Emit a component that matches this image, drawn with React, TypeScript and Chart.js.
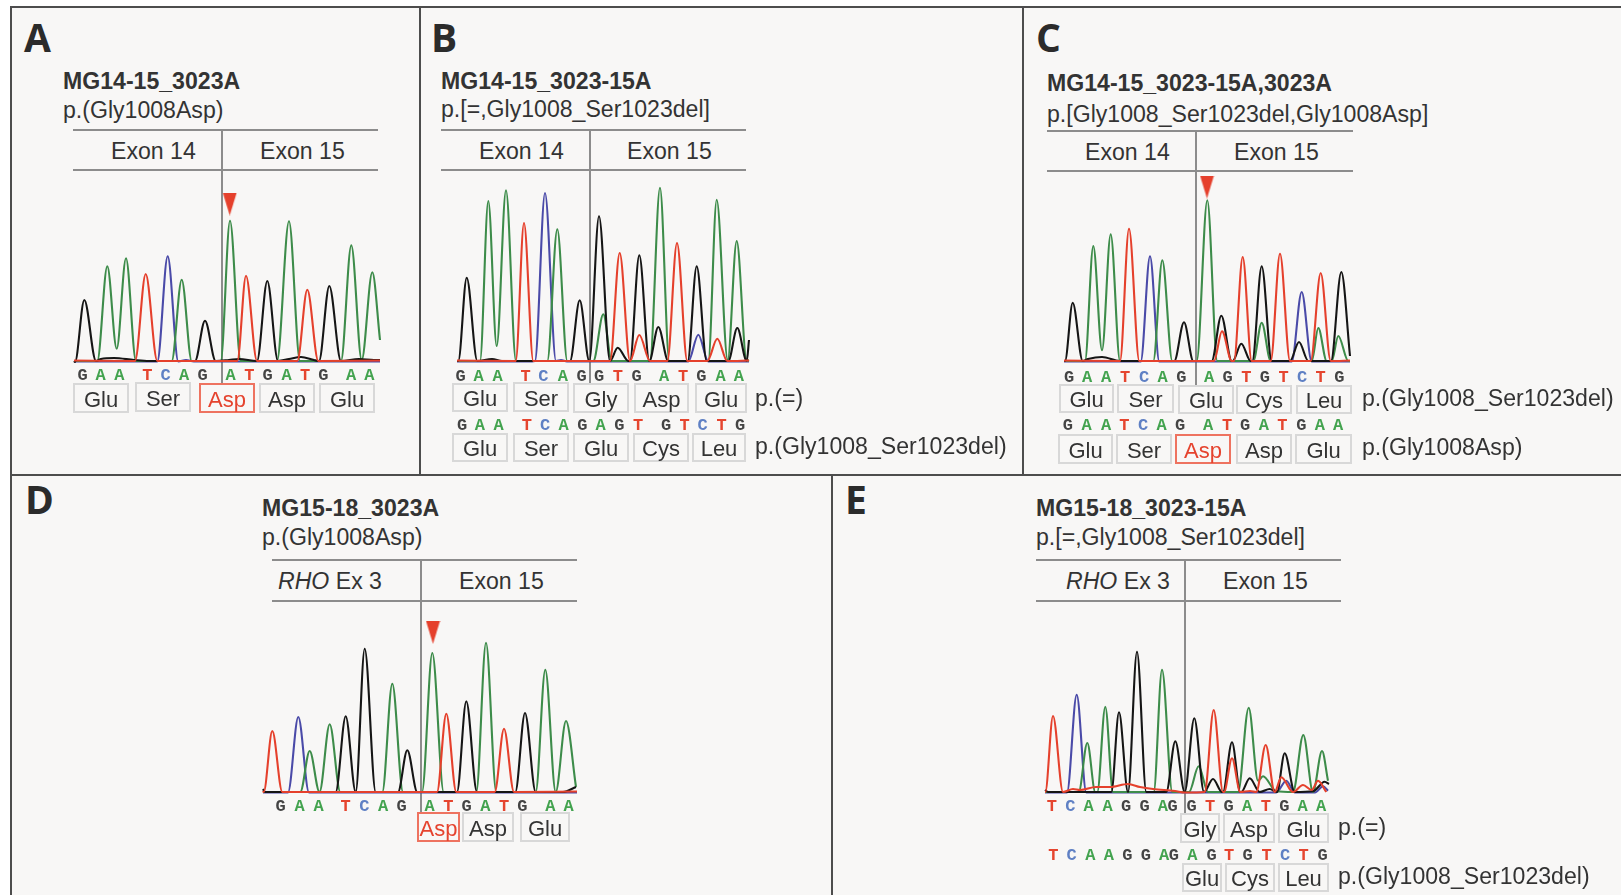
import React, { useEffect, useRef } from "react";
import { Chart, registerables } from "chart.js";

Chart.register(...registerables);

type Pt = [number, number];

// ---------- Panel A traces (scan position, signal) ----------
const aBlack: Pt[] = [[0,1],[1,0],[10.3,62],[22,1],[27,3],[40,4],[60,2],[75,1],[121,1],[131,41.3],[141.7,1],[155,2],[165,3],[183,1],[193.3,81],[204,1],[215,3],[227,5],[240,2],[245,1],[255.3,76],[267,1],[285,3],[300,2],[306,2]];
const aGreen: Pt[] = [[0,1],[23.3,1],[33.3,95.7],[42.7,13.3],[52,103.7],[62,1],[97.7,1],[107.7,82.3],[117.7,1],[146.7,1],[156,141.3],[166.7,1],[203,1],[215,140.7],[226,1],[267,1],[277.3,116.7],[287.7,2],[298.3,89.7],[306,22]];
const aRed: Pt[] = [[0,1.5],[61,1],[71.7,88],[83.3,1],[163.3,1],[172,86.3],[183,1],[223.3,1],[233.3,72.3],[244.3,1],[306,1.5]];
const aBlue: Pt[] = [[0,0.5],[83.3,0.5],[93.7,105.7],[104.3,0.5],[112,2],[120,0.5],[306,0.5]];
const aBasePos = [8.7,26.7,45.3,73.3,91.7,110,128.7,156.7,175.3,193.7,212.7,231,249.3,277,295.3];
const aBases = "GAATCAGATGATGAA";
const aMarker: Pt[] = [[155.7,158]];

// ---------- Panel B ----------
const bBlack: Pt[] = [[0,1],[1.3,1],[9.7,84.3],[20.3,1],[35,3],[45,1],[113,1],[122.7,61.7],[132.3,1],[142,145.7],[153,1],[160.7,14.3],[171.3,1],[173,1],[182.3,106.7],[192.3,1],[201.3,35],[211.3,1],[230.7,1],[239.7,95.7],[249.7,1],[271.3,1],[280.3,34],[289.7,1],[292,22]];
const bGreen: Pt[] = [[0,1],[23,1],[31.3,161],[39.7,16],[49,171.7],[59,1],[90.3,1],[100.3,132.7],[110.3,1],[136.3,1],[146.3,47.7],[154.7,1],[193,1],[203,174.3],[212.3,1],[251.3,1],[259.7,162.3],[270.7,2],[279.7,121],[289.7,1],[292,2]];
const bRed: Pt[] = [[0,1.5],[58.7,1],[67,139],[76.3,1],[153,1],[162.7,109],[173,1],[182.3,27],[193,1],[210.3,1],[220,119],[230.3,1],[250.3,1],[260.3,23.3],[270.3,1],[292,1.5]];
const bBlue: Pt[] = [[0,0.5],[71,0.5],[78,1],[88,169],[99,1],[104,2],[110,0.5],[231.3,0.5],[241.3,27.3],[251.3,0.5],[292,0.5]];
const bBasePos1 = [3.6,21.6,40.7,68.7,86.3,105.8,124.5,142.2,160.9,179.7,207.2,226,244.3,263.5,281.8];
const bBases1 = "GAATCAGGTGATGAA";
const bBasePos2 = [5.1,22.8,41.5,69.8,88.2,106.6,125.3,143.7,162.4,181.2,209.1,227.5,245.5,264.6,283];
const bBases2 = "GAATCAGAGTGTCTG";

// ---------- Panel C ----------
const cBlack: Pt[] = [[0,1],[1,1],[8.7,59.3],[18.7,1],[24,3],[38,5],[56,1],[110.3,1],[120,39.7],[129.3,1],[147.7,1],[157.3,46.3],[167.7,1],[168.7,1],[177.3,18.3],[186.7,1],[188.3,1],[197.7,95.7],[207.7,1],[226,1],[235,20],[244.3,1],[267,1],[277.3,90],[286,6]];
const cGreen: Pt[] = [[0,1],[21,1],[29.3,116],[38,11.7],[46.7,127.7],[56,1],[89.3,1],[98.3,101.7],[108.3,1],[132.7,1],[143.3,161.7],[153.3,1],[189.3,1],[197.7,39.3],[206.7,1],[247.7,1],[254.3,34],[262.7,1],[267.7,1],[274.3,26],[284.3,1],[286,1]];
const cRed: Pt[] = [[0,1.5],[56,1],[65,133.3],[75.3,1],[150,1],[158,30.7],[167.7,1],[170,1],[178.7,105],[187.7,1],[206.7,1],[216,108.3],[226,1],[246.7,1],[256.7,89],[266.7,1],[286,1.5]];
const cBlue: Pt[] = [[0,0.5],[76.7,0.5],[86,105.7],[95.3,0.5],[227.7,0.5],[237.7,70],[247.7,0.5],[286,0.5]];
const cBasePos1 = [5,23.2,42.2,61.1,80.1,98.7,117.3,145.1,163.7,182.3,200.9,219.5,238.1,256.7,275.3];
const cBases1 = "GAATCAGAGTGTCTG";
const cBasePos2 = [3.9,22.5,42.2,60.4,79,97.6,116.1,144,163,181.2,199.8,218.4,237.3,255.9,274.1];
const cBases2 = "GAATCAGATGATGAA";
const cMarker: Pt[] = [[143,175]];

// ---------- Panel D ----------
const dBlack: Pt[] = [[0,4],[2,1],[72.7,1],[82.7,76.7],[92.7,1],[101.7,144.3],[112.7,1],[135,1],[144.3,42.7],[154.3,1],[194,1],[203.3,91.7],[214,1],[252.3,1],[262,80],[272.7,1],[300,1],[313,6]];
const dGreen: Pt[] = [[0,1],[37.3,1],[46.7,42],[56.5,1],[66.7,68.7],[77.3,1],[119.3,1],[129.3,109.3],[140,1],[159,1],[169.3,140],[180.7,1],[213.3,1],[223,150.3],[233.3,1],[272.7,1],[282.3,123.3],[292.7,1],[303,72],[313,6]];
const dRed: Pt[] = [[0,2],[0.7,1],[9.3,62],[19.3,1],[174,1],[183.3,79.3],[193.3,1],[231.7,1],[241,64.3],[251,1],[314,1.5]];
const dBlue: Pt[] = [[0,0.5],[25,0.5],[35.3,76],[46,0.5],[314,0.5]];
const dBasePos = [17.7,36.7,55.7,82.7,101.3,120,138.7,166.7,185.3,203.7,222.3,241,259.3,287.3,305.7];
const dBases = "GAATCAGATGATGAA";
const dMarker: Pt[] = [[170,160.6]];

// ---------- Panel E ----------
const eBlack: Pt[] = [[0,3],[3,1],[66.3,1],[74,80.7],[83,1],[92,141.3],[101.3,1],[121.3,1],[130.3,51.7],[139.7,1],[149.3,74.7],[159,1],[168,14],[177,1],[178,1],[187,50.7],[195.3,1],[196.3,1],[204.7,14.7],[214.7,1],[224.7,4],[232,1],[239.7,39.7],[249.7,1],[268,1.7],[279.7,11.3],[284,9]];
const eGreen: Pt[] = [[0,1],[33.7,1],[42.3,50],[50.3,1],[52.3,1],[60.3,86.3],[68,1],[108.7,1],[117,123.3],[127.3,1],[144,1],[153.7,26.7],[163,1],[193,1],[203.7,85.3],[213,12.3],[218,16.7],[231.3,1.7],[248,1],[258.3,58],[268,1],[277,42],[283,12.3]];
const eRed: Pt[] = [[0,1],[0.3,1],[8,77],[18,1],[28,4],[35,3],[51,6],[65,6],[83,9],[95,6],[108,4],[130,2],[140,0.5],[159.7,1],[168.7,83],[178,1],[179,1],[187,34.7],[195.3,1],[205,2],[211.3,1],[220.7,48],[229.7,1],[236.3,15.7],[248,1],[258,8],[266.7,3],[273,12.3],[281.3,1]];
const eBlue: Pt[] = [[0,0.5],[22,0.5],[31.7,98.3],[41.3,0.5],[231.3,0.5],[241.3,12.3],[249.7,0.5],[270,0.5],[278,6.7],[283,2.3]];
const eBasePos1 = [6.9,25.4,43.5,62.7,81.2,99.7,117.8,127.6,146.5,165,183.5,202,220.8,239.3,257.5,276];
const eBases1 = "TCAAGGAGGTGATGAA";
const eBasePos2 = [8.4,26.5,45.4,63.9,82.4,100.8,119,128.8,147.3,166.5,184.2,202.7,221.6,240.1,258.6,277.5];
const eBases2 = "TCAAGGAGAGTGTCTG";

// ---------- Colours ----------
const GREEN = "#3d8c4a";
const RED = "#e5402c";
const BLACK = "#151515";
const BLUE = "#4a4aa8";
const baseColor: Record<string, string> = { G: "#444444", A: "#43a34f", T: "#e5452f", C: "#5f80c4" };

type Spec = {
  left: number; baseline: number; width: number; height: number;
  black: Pt[]; green: Pt[]; red: Pt[]; blue: Pt[];
  pos1: number[]; bases1: string; pos2?: number[]; bases2?: string; marker?: Pt[];
  row1Pad: number; row2Pad?: number;
};

const specs: Spec[] = [
  { left: 74, baseline: 362, width: 306, height: 175, black: aBlack, green: aGreen, red: aRed, blue: aBlue, pos1: aBasePos, bases1: aBases, marker: aMarker, row1Pad: 1 },
  { left: 457, baseline: 362, width: 292, height: 185, black: bBlack, green: bGreen, red: bRed, blue: bBlue, pos1: bBasePos1, bases1: bBases1, pos2: bBasePos2, bases2: bBases2, row1Pad: 1.5, row2Pad: 24.5 },
  { left: 1064, baseline: 362, width: 287, height: 190, black: cBlack, green: cGreen, red: cRed, blue: cBlue, pos1: cBasePos1, bases1: cBases1, pos2: cBasePos2, bases2: cBases2, marker: cMarker, row1Pad: 2.5, row2Pad: 24.5 },
  { left: 263, baseline: 793, width: 314, height: 175, black: dBlack, green: dGreen, red: dRed, blue: dBlue, pos1: dBasePos, bases1: dBases, marker: dMarker, row1Pad: 0.5 },
  { left: 1045, baseline: 793, width: 284, height: 150, black: eBlack, green: eGreen, red: eRed, blue: eBlue, pos1: eBasePos1, bases1: eBases1, pos2: eBasePos2, bases2: eBases2, row1Pad: 1, row2Pad: 24 },
];

const MARGIN = 12;
const YMIN = -3;
const ROW_H = 26;
const ROW2_H = 50;

function toXY(p: Pt[]) { return p.map(([x, y]) => ({ x, y })); }

function Trace({ spec }: { spec: Spec }) {
  const ref = useRef<HTMLCanvasElement>(null);
  useEffect(() => {
    if (!ref.current) return;
    const tri = document.createElement("canvas");
    tri.width = 15; tri.height = 23;
    const g = tri.getContext("2d")!;
    g.fillStyle = "#e5402c";
    g.beginPath(); g.moveTo(0.5, 0); g.lineTo(14.5, 0); g.lineTo(7.5, 23); g.closePath(); g.fill();

    const line = (data: Pt[], color: string) => ({
      data: toXY(data), borderColor: color, borderWidth: 2.1, pointRadius: 0,
      cubicInterpolationMode: "monotone" as const, fill: false,
    });
    const datasets: any[] = [
      line(spec.red, RED), line(spec.black, BLACK), line(spec.green, GREEN), line(spec.blue, BLUE),
    ];
    if (spec.marker) datasets.unshift({ data: toXY(spec.marker), showLine: false, pointStyle: tri, pointRadius: 8 });

    const mkAxis = (pos: number[], bases: string, pad: number, h: number, weight: number) => ({
      type: "linear" as const, position: "bottom" as const, min: -MARGIN, max: spec.width + MARGIN, weight,
      grid: { display: false, drawTicks: false }, border: { display: false },
      afterBuildTicks: (s: any) => { s.ticks = pos.map((value) => ({ value })); },
      afterFit: (s: any) => { s.height = h; s.paddingLeft = 0; s.paddingRight = 0; },
      ticks: {
        autoSkip: false, maxRotation: 0, minRotation: 0, padding: pad,
        font: { family: "'Liberation Mono'", size: 17, weight: "bold" as const },
        color: (c: any) => baseColor[bases[c.index]] ?? "#444",
        callback: (_v: any, i: number) => bases[i],
      },
    });
    const scales: any = {
      x: mkAxis(spec.pos1, spec.bases1, spec.row1Pad, ROW_H, 0),
      y: { type: "linear", display: false, min: YMIN, max: spec.height },
    };
    if (spec.pos2) {
      scales.x2 = mkAxis(spec.pos2, spec.bases2!, spec.row2Pad!, ROW2_H, 1);
    }
    const chart = new Chart(ref.current, {
      type: "line",
      data: { datasets },
      options: {
        responsive: false, animation: false, parsing: { xAxisKey: "x", yAxisKey: "y" },
        layout: { padding: 0, autoPadding: false },
        plugins: { legend: { display: false }, tooltip: { enabled: false }, title: { display: false } },
        scales,
      },
    });
    return () => chart.destroy();
  }, [spec]);
  const bottom = spec.pos2 ? ROW_H + ROW2_H : ROW_H;
  return (
    <canvas
      ref={ref}
      width={spec.width + 2 * MARGIN}
      height={spec.height - YMIN + bottom}
      style={{ position: "absolute", left: spec.left - MARGIN, top: spec.baseline - spec.height }}
    />
  );
}

const SANS = "'Liberation Sans', Arial, sans-serif";
const TEXT = "#333333";

function T({ x, base, size = 23.1, bold, italic, color = TEXT, children }: any) {
  return (
    <div style={{ position: "absolute", left: x, top: base - 0.8465 * size, fontFamily: SANS, fontSize: size, lineHeight: 1, whiteSpace: "nowrap", fontWeight: bold ? 700 : 400, fontStyle: italic ? "italic" : "normal", color }}>
      {children}
    </div>
  );
}

function PanelLetter({ x, base, children }: any) {
  return (
    <div style={{ position: "absolute", left: x, top: base - 0.888 * 39, fontFamily: "'Open Sans'", fontWeight: 700, fontSize: 39, lineHeight: 1, color: "#2b2b2b" }}>{children}</div>
  );
}

function HLine({ x1, x2, y, color = "#8c8c8c", w = 1.5 }: any) {
  return <div style={{ position: "absolute", left: x1, width: x2 - x1, top: y, height: w, background: color }} />;
}
function VLine({ x, y1, y2, color = "#8c8c8c", w = 1.5 }: any) {
  return <div style={{ position: "absolute", left: x, top: y1, height: y2 - y1, width: w, background: color }} />;
}

function Box({ x1, x2, y1, y2, red, children }: any) {
  return (
    <div style={{ position: "absolute", left: x1, top: y1, width: x2 - x1, height: y2 - y1, boxSizing: "border-box", border: `2px solid ${red ? "#ee7360" : "#d8d8d8"}`, paddingTop: 3, display: "flex", alignItems: "center", justifyContent: "center", fontFamily: SANS, fontSize: 22, color: red ? "#e5432e" : TEXT, background: "transparent" }}>
      {children}
    </div>
  );
}

const FRAME = "#4d4d4d";

export default function App() {
  useEffect(() => { document.body.style.margin = "0"; document.body.style.background = "#ffffff"; }, []);
  return (
    <div style={{ position: "relative", width: 1621, height: 895, overflow: "hidden", background: "#ffffff", filter: "blur(0.4px)" }}>
      <div style={{ position: "absolute", left: 10, top: 7, right: 0, bottom: 0, background: "#f8f7f6" }} />
      <HLine x1={10} x2={1621} y={6} color={FRAME} w={2} />
      <HLine x1={10} x2={1621} y={474} color={FRAME} w={2} />
      <VLine x={10} y1={6} y2={895} color={FRAME} w={2} />
      <VLine x={419} y1={6} y2={475} color={FRAME} w={2} />
      <VLine x={1022} y1={6} y2={475} color={FRAME} w={2} />
      <VLine x={831} y1={475} y2={895} color={FRAME} w={2} />

      <PanelLetter x={24} base={52}>A</PanelLetter>
      <PanelLetter x={431} base={52}>B</PanelLetter>
      <PanelLetter x={1036} base={52}>C</PanelLetter>
      <PanelLetter x={25} base={514}>D</PanelLetter>
      <PanelLetter x={845} base={514}>E</PanelLetter>

      {/* A */}
      <T x={63} base={90} bold>MG14-15_3023A</T>
      <T x={63} base={119}>p.(Gly1008Asp)</T>
      <HLine x1={73} x2={378} y={129} />
      <HLine x1={73} x2={378} y={169} />
      <VLine x={221} y1={130} y2={383} />
      <T x={111} base={160}>Exon 14</T>
      <T x={260} base={160}>Exon 15</T>

      {/* B */}
      <T x={441} base={90} bold>MG14-15_3023-15A</T>
      <T x={441} base={118}>p.[=,Gly1008_Ser1023del]</T>
      <HLine x1={441} x2={746} y={129} />
      <HLine x1={441} x2={746} y={169} />
      <VLine x={589} y1={130} y2={383} />
      <T x={479} base={160}>Exon 14</T>
      <T x={627} base={160}>Exon 15</T>

      {/* C */}
      <T x={1047} base={92} bold>MG14-15_3023-15A,3023A</T>
      <T x={1047} base={123}>p.[Gly1008_Ser1023del,Gly1008Asp]</T>
      <HLine x1={1047} x2={1353} y={130} />
      <HLine x1={1047} x2={1353} y={170} />
      <VLine x={1195} y1={131} y2={385} />
      <T x={1085} base={161}>Exon 14</T>
      <T x={1234} base={161}>Exon 15</T>

      {/* D */}
      <T x={262} base={517} bold>MG15-18_3023A</T>
      <T x={262} base={546}>p.(Gly1008Asp)</T>
      <HLine x1={272} x2={577} y={559} />
      <HLine x1={272} x2={577} y={600} />
      <VLine x={420} y1={560} y2={813} />
      <T x={278} base={590}><i>RHO</i> Ex 3</T>
      <T x={459} base={590}>Exon 15</T>

      {/* E */}
      <T x={1036} base={517} bold>MG15-18_3023-15A</T>
      <T x={1036} base={546}>p.[=,Gly1008_Ser1023del]</T>
      <HLine x1={1036} x2={1341} y={559} />
      <HLine x1={1036} x2={1341} y={600} />
      <VLine x={1184} y1={560} y2={813} />
      <T x={1066} base={590}><i>RHO</i> Ex 3</T>
      <T x={1223} base={590}>Exon 15</T>

      {specs.map((s, i) => <Trace key={i} spec={s} />)}

      {/* A boxes */}
      <Box x1={73} x2={129} y1={383} y2={413}>Glu</Box>
      <Box x1={135} x2={191} y1={382} y2={412}>Ser</Box>
      <Box x1={199} x2={255} y1={383} y2={413} red>Asp</Box>
      <Box x1={259} x2={315} y1={383} y2={413}>Asp</Box>
      <Box x1={319} x2={375} y1={383} y2={413}>Glu</Box>

      {/* B boxes */}
      <Box x1={452} x2={508} y1={383} y2={412}>Glu</Box>
      <Box x1={513} x2={569} y1={382} y2={412}>Ser</Box>
      <Box x1={573} x2={629} y1={383} y2={413}>Gly</Box>
      <Box x1={634} x2={689} y1={383} y2={413}>Asp</Box>
      <Box x1={695} x2={747} y1={383} y2={413}>Glu</Box>
      <T x={755} base={407}>p.(=)</T>
      <Box x1={452} x2={508} y1={433} y2={462}>Glu</Box>
      <Box x1={513} x2={569} y1={433} y2={462}>Ser</Box>
      <Box x1={573} x2={629} y1={433} y2={462}>Glu</Box>
      <Box x1={633} x2={689} y1={433} y2={462}>Cys</Box>
      <Box x1={692} x2={746} y1={433} y2={462}>Leu</Box>
      <T x={755} base={455}>p.(Gly1008_Ser1023del)</T>

      {/* C boxes */}
      <Box x1={1059} x2={1114} y1={384} y2={413}>Glu</Box>
      <Box x1={1117} x2={1174} y1={384} y2={413}>Ser</Box>
      <Box x1={1178} x2={1234} y1={385} y2={414}>Glu</Box>
      <Box x1={1236} x2={1292} y1={385} y2={414}>Cys</Box>
      <Box x1={1296} x2={1352} y1={385} y2={414}>Leu</Box>
      <T x={1362} base={407}>p.(Gly1008_Ser1023del)</T>
      <Box x1={1058} x2={1113} y1={434} y2={464}>Glu</Box>
      <Box x1={1116} x2={1172} y1={434} y2={464}>Ser</Box>
      <Box x1={1175} x2={1231} y1={434} y2={464} red>Asp</Box>
      <Box x1={1236} x2={1292} y1={434} y2={464}>Asp</Box>
      <Box x1={1295} x2={1352} y1={434} y2={464}>Glu</Box>
      <T x={1362} base={456}>p.(Gly1008Asp)</T>

      {/* D boxes */}
      <Box x1={417} x2={460} y1={812} y2={842} red>Asp</Box>
      <Box x1={462} x2={514} y1={812} y2={842}>Asp</Box>
      <Box x1={520} x2={570} y1={812} y2={842}>Glu</Box>

      {/* E boxes */}
      <Box x1={1180} x2={1220} y1={813} y2={843}>Gly</Box>
      <Box x1={1223} x2={1275} y1={813} y2={843}>Asp</Box>
      <Box x1={1278} x2={1329} y1={813} y2={843}>Glu</Box>
      <T x={1338} base={836}>p.(=)</T>
      <Box x1={1182} x2={1222} y1={863} y2={892}>Glu</Box>
      <Box x1={1225} x2={1275} y1={863} y2={892}>Cys</Box>
      <Box x1={1278} x2={1329} y1={863} y2={892}>Leu</Box>
      <T x={1338} base={885}>p.(Gly1008_Ser1023del)</T>
    </div>
  );
}
